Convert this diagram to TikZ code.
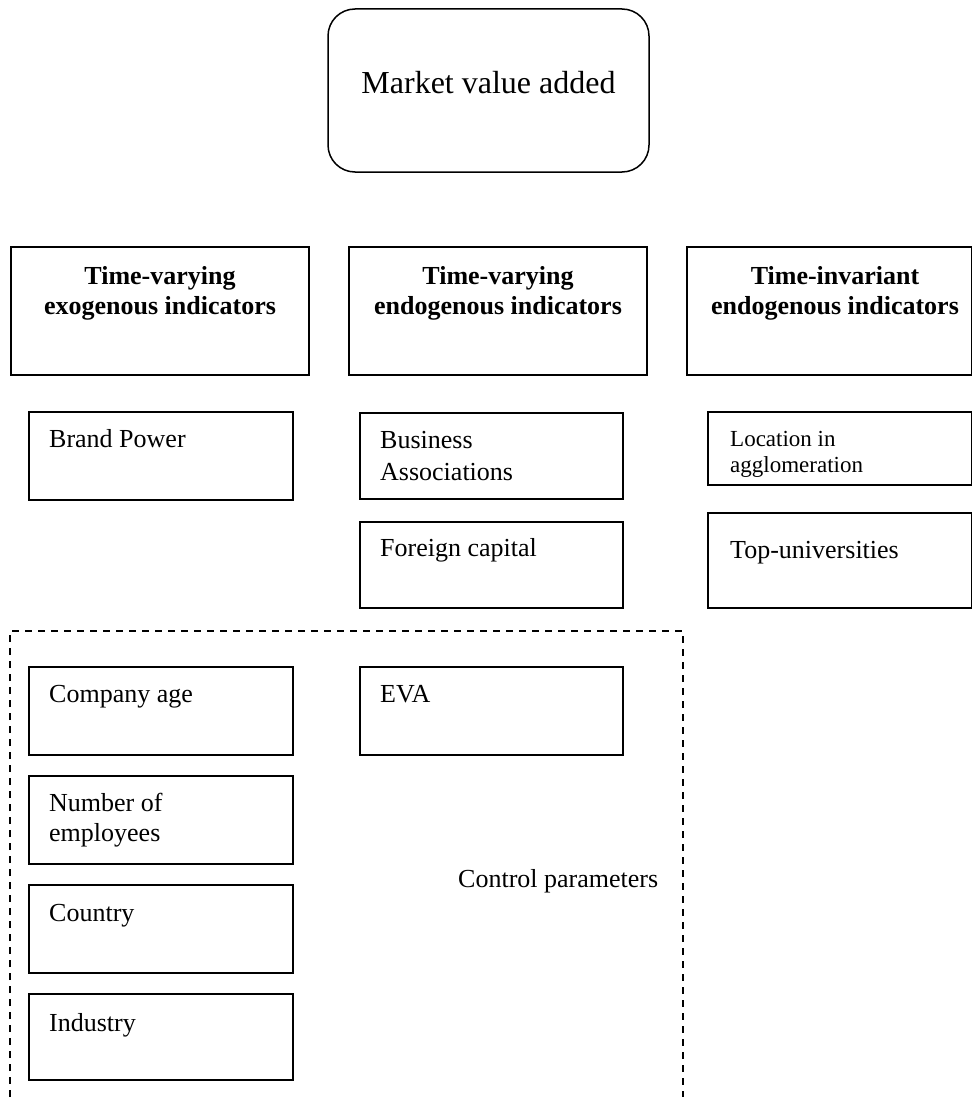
\documentclass[tikz,border=0pt]{standalone}
\usepackage{fontspec}
\setmainfont{Liberation Serif}
\newcommand\twolinesl[2]{\vtop{\halign{##\hfil\cr#1\cr#2\cr}}}
\newcommand\twolinesc[2]{\vtop{\halign{\hfil##\hfil\cr#1\cr#2\cr}}}
\begin{document}
\begin{tikzpicture}[x=1pt,y=-1pt,
  box/.style={draw, line width=1.6pt, rectangle, anchor=north west, inner sep=0pt, outer sep=0pt},
  lbl/.style={anchor=base west, inner sep=0pt, font=\fontsize{26}{30}\selectfont},
  smalllbl/.style={anchor=base west, inner sep=0pt, font=\fontsize{23}{26}\selectfont},
  hdr/.style={anchor=base, inner sep=0pt, font=\fontsize{26}{30}\selectfont\bfseries},
  dashedframe/.style={line width=1.6pt, dash pattern=on 7pt off 6pt}]
\useasboundingbox (0,0) rectangle (973,1097);

% top rounded box
\node[box, line width=1.5pt, rounded corners=27pt, minimum width=321pt, minimum height=163pt] (mva) at (328,9) {};
\node[anchor=base, inner sep=0pt, font=\fontsize{32}{38}\selectfont] (mvat) at (488.5,94) {Market value added};

% header boxes
\node[box, minimum width=298pt, minimum height=128pt] (h1) at (11,247) {};
\node[box, minimum width=298pt, minimum height=128pt] (h2) at (349,247) {};
\node[box, minimum width=284.5pt, minimum height=128pt] (h3) at (687,247) {};
\node[hdr] (h1t) at (160,284) {\twolinesc{Time-varying}{exogenous indicators}};
\node[hdr] (h2t) at (498,284) {\twolinesc{Time-varying}{endogenous indicators}};
\node[hdr] (h3t) at (835,284) {\twolinesc{Time-invariant}{endogenous indicators}};

% first column
\node[box, minimum width=264pt, minimum height=88pt] (bp) at (29,412) {};
\node[lbl] (bpt) at (49,447) {Brand Power};

% second column
\node[box, minimum width=263pt, minimum height=86pt] (ba) at (360,413) {};
\node[lbl, font=\fontsize{26}{32}\selectfont] (bat) at (380,448) {\twolinesl{Business}{Associations}};
\node[box, minimum width=263pt, minimum height=86pt] (fc) at (360,522) {};
\node[lbl] (fct) at (380,556) {Foreign capital};

% third column
\node[box, minimum width=263.5pt, minimum height=73pt] (loc) at (708,412) {};
\node[smalllbl] (loct) at (730,446) {\twolinesl{Location in}{agglomeration}};
\node[box, minimum width=263.5pt, minimum height=95pt] (tu) at (708,513) {};
\node[lbl] (tut) at (730,558) {Top-universities};

% control parameters frame
\draw[dashedframe] (10,1097) -- (10,631) -- (683,631) -- (683,1097);
\node[lbl] (ctrl) at (458,887) {Control parameters};

\node[box, minimum width=264pt, minimum height=88pt] (ca) at (29,667) {};
\node[lbl] (cat) at (49,702) {Company age};
\node[box, minimum width=263pt, minimum height=88pt] (eva) at (360,667) {};
\node[lbl] (evat) at (380,702) {EVA};
\node[box, minimum width=264pt, minimum height=88pt] (ne) at (29,776) {};
\node[lbl] (net) at (49,811) {\twolinesl{Number of}{employees}};
\node[box, minimum width=264pt, minimum height=88pt] (co) at (29,885) {};
\node[lbl] (cot) at (49,921) {Country};
\node[box, minimum width=264pt, minimum height=86pt] (ind) at (29,994) {};
\node[lbl] (indt) at (49,1031) {Industry};
\end{tikzpicture}
\end{document}
